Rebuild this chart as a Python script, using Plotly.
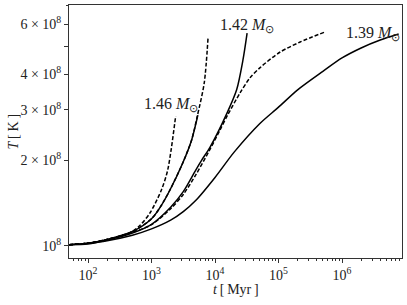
import plotly.graph_objects as go

# time [Myr] and temperature [1e8 K]
t_139s = [50, 100, 200, 500, 1000, 2000, 3160, 5000, 1e4, 2e4, 5e4, 1e5, 2e5, 5e5, 1e6, 2e6, 4e6, 7.8e6]
T_139s = [1.009, 1.021, 1.042, 1.089, 1.146, 1.23, 1.318, 1.445, 1.738, 2.133, 2.679, 3.069, 3.532, 4.102, 4.571, 4.955, 5.284, 5.546]

t_139d = [50, 100, 200, 500, 1000, 2000, 3160, 5000, 7940, 12000, 15850, 24500, 35500, 51300, 1.05e5, 2.19e5, 5.37e5]
T_139d = [1.009, 1.021, 1.052, 1.114, 1.186, 1.349, 1.514, 1.778, 2.138, 2.553, 2.884, 3.428, 3.890, 4.227, 4.786, 5.200, 5.636]

t_142s = [50, 100, 200, 500, 1000, 2000, 3160, 5000, 6170, 8320, 15500, 21900, 27500, 32000]
T_142s = [1.009, 1.014, 1.047, 1.109, 1.19, 1.366, 1.549, 1.849, 2.0, 2.218, 2.931, 3.532, 4.487, 5.585]

t_142d = [50, 100, 200, 500, 1000, 1410, 1950, 3090, 4270, 5250, 6760, 7760]
T_142d = [1.009, 1.021, 1.052, 1.122, 1.245, 1.380, 1.570, 1.95, 2.35, 2.851, 3.733, 5.37]

t_146s = [50, 100, 200, 500, 1000, 1410, 1950, 3090, 4270, 5370]
T_146s = [1.009, 1.021, 1.052, 1.122, 1.245, 1.380, 1.570, 1.95, 2.35, 2.877]

t_146d = [50, 100, 200, 457, 660, 955, 1430, 1800, 2400]
T_146d = [1.009, 1.021, 1.052, 1.109, 1.180, 1.309, 1.570, 1.849, 2.858]

labels = ["1.46", "1.42", "1.39"]

series = [
    (t_139s, T_139s, "solid"),
    (t_139d, T_139d, "4px,2px"),
    (t_142s, T_142s, "solid"),
    (t_142d, T_142d, "4px,2px"),
    (t_146s, T_146s, "solid"),
    (t_146d, T_146d, "4px,2px"),
]

fig = go.Figure()
for t, T, dash in series:
    fig.add_trace(go.Scatter(
        x=t, y=[v * 1e8 for v in T], mode="lines",
        line=dict(color="black", width=1.5, dash=dash, shape="spline", smoothing=0.8),
        showlegend=False, hoverinfo="skip"))

font_family = "Liberation Serif"
text_col = "#222222"
ann_font = dict(family=font_family, size=16, color=text_col)
ann_pos = [(3.764, 8.498), (4.96, 8.775), (6.94, 8.747)]
for lab, (ax, ay) in zip(labels, ann_pos):
    fig.add_annotation(x=ax, y=ay, xref="x", yref="y",
                       text=lab + " <i>M</i><sub>⊙</sub>", showarrow=False,
                       xanchor="right", yanchor="middle", font=ann_font)

# axis titles
fig.add_annotation(x=0.5, y=-0.125, xref="paper", yref="paper", text="<i>t</i>\u2009[\u2009Myr\u2009]",
                   showarrow=False, xanchor="center", yanchor="middle",
                   font=dict(family=font_family, size=14, color=text_col))
fig.add_annotation(x=-0.168, y=0.5, xref="paper", yref="paper", text="<i>T</i>\u2009[\u2009K\u2009]",
                   showarrow=False, xanchor="center", yanchor="middle", textangle=-90,
                   font=dict(family=font_family, size=14, color=text_col))

xt = [1e2, 1e3, 1e4, 1e5, 1e6]
xt_text = ["10<sup>2</sup>", "10<sup>3</sup>", "10<sup>4</sup>", "10<sup>5</sup>", "10<sup>6</sup>"]
yt = [1e8, 2e8, 3e8, 4e8, 5e8, 6e8]
yt_text = ["10<sup>8</sup>", "2 × 10<sup>8</sup>", "3 × 10<sup>8</sup>", "4 × 10<sup>8</sup>", "", "6 × 10<sup>8</sup>"]

xminor = [m * 10 ** e for e in range(1, 7) for m in range(2, 10)]
yminor = [7e8]

axis_common = dict(showgrid=False, zeroline=False, showline=True, linecolor="#333333",
                   linewidth=1, mirror=True, ticks="outside", tickcolor="#333333",
                   tickwidth=1, ticklen=4, automargin=False,
                   tickfont=dict(family=font_family, size=14, color=text_col))

fig.update_xaxes(type="log", range=[1.70, 6.945], tickvals=xt, ticktext=xt_text,
                 minor=dict(tickvals=xminor, ticks="outside", ticklen=2, tickcolor="#333333"),
                 **axis_common)
fig.update_yaxes(type="log", range=[7.957, 8.846], tickvals=yt, ticktext=yt_text,
                 minor=dict(tickvals=yminor, ticks="outside", ticklen=2, tickcolor="#333333"),
                 **axis_common)

fig.update_layout(width=407, height=305, margin=dict(l=69, r=5, t=5, b=47),
                  plot_bgcolor="white", paper_bgcolor="white")

fig.write_html("out.html", config={"displayModeBar": False},
               post_script="document.body.style.margin='0';document.body.style.padding='0';")
